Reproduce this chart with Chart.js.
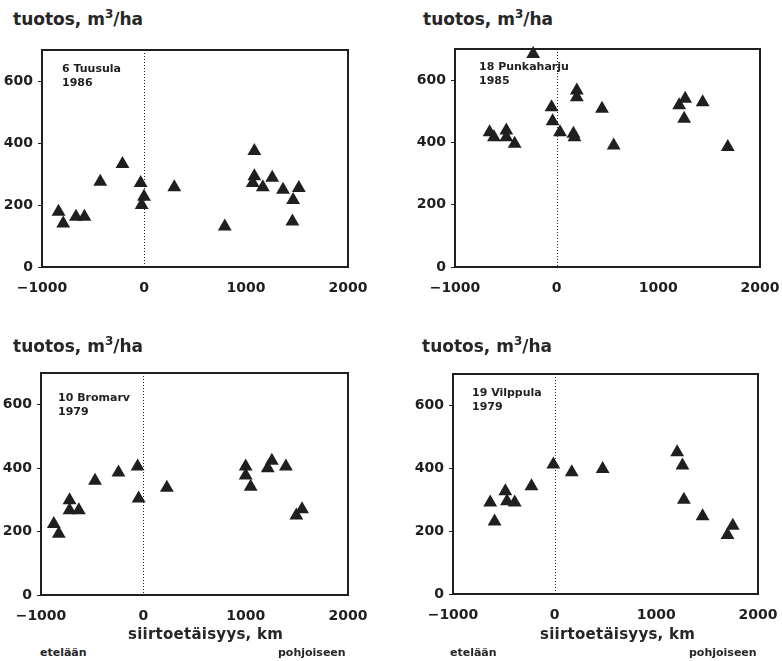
<!DOCTYPE html>
<html>
<head>
<meta charset="utf-8">
<script src="https://cdn.jsdelivr.net/npm/chart.js@4/dist/chart.umd.min.js"></script>
<style>
  body { margin: 0; background: #fff; width: 782px; height: 661px; position: relative; overflow: hidden; }
  canvas { position: absolute; }
  .lbl { position: absolute; color: #262626; font-family: "DejaVu Sans", sans-serif; white-space: nowrap; line-height: 20px; }
  .ytitle { font-size: 17px; font-weight: bold; }
  .ytitle sup { font-size: 12px; vertical-align: 7px; line-height: 0; }
  .xtitle { font-size: 15px; font-weight: bold; letter-spacing: 0.25px; }
  .dir { font-size: 11px; font-weight: bold; }
</style>
</head>
<body>
<canvas id="c1"></canvas>
<canvas id="c2"></canvas>
<canvas id="c3"></canvas>
<canvas id="c4"></canvas>

<div class="lbl ytitle" style="left:13px; top:9px;">tuotos, m<sup>3</sup>/ha</div>
<div class="lbl ytitle" style="left:423px; top:9px;">tuotos, m<sup>3</sup>/ha</div>
<div class="lbl ytitle" style="left:13px; top:336px;">tuotos, m<sup>3</sup>/ha</div>
<div class="lbl ytitle" style="left:422px; top:336px;">tuotos, m<sup>3</sup>/ha</div>

<div class="lbl xtitle" style="left:128px; top:624px;">siirtoetäisyys, km</div>
<div class="lbl xtitle" style="left:540px; top:624px;">siirtoetäisyys, km</div>
<div class="lbl dir" style="left:40px; top:643px;">etelään</div>
<div class="lbl dir" style="left:278px; top:643px;">pohjoiseen</div>
<div class="lbl dir" style="left:450px; top:643px;">etelään</div>
<div class="lbl dir" style="left:689px; top:643px;">pohjoiseen</div>

<script>
// Akselit
const xTicksMin = -1000, xTicksMax = 2000, xStep = 1000;
const yTicksMin = 0, yTicksMax = 700, yStep = 200;
const zeroLine = [0];

// 6 Tuusula 1986
const tuusulaX = [-838, -792, -667, -584, -429, -211, -33, 0, -23, 297, 792, 1082, 1082, 1066, 1165, 1257, 1363, 1462, 1518, 1455];
const tuusulaY = [178, 140, 162, 162, 275, 332, 271, 227, 200, 257, 131, 374, 293, 271, 257, 288, 249, 216, 255, 147];

// 18 Punkaharju 1985
const punkaX = [-231, -660, -617, -495, -495, -413, -50, -40, 33, 165, 175, 198, 198, 446, 561, 1205, 1264, 1254, 1436, 1683];
const punkaY = [684, 433, 417, 438, 417, 396, 513, 468, 433, 428, 417, 567, 545, 508, 390, 519, 540, 476, 529, 385];

// 10 Bromarv 1979
const bromarvX = [-875, -826, -721, -721, -630, -472, -243, -56, -46, 230, 1000, 1000, 1049, 1216, 1256, 1393, 1495, 1551];
const bromarvY = [224, 193, 299, 267, 267, 360, 386, 405, 304, 338, 405, 377, 341, 400, 423, 405, 251, 270];

// 19 Vilppula 1979
const vilppulaX = [-634, -591, -485, -469, -393, -228, -13, 168, 472, 1205, 1257, 1271, 1455, 1700, 1752];
const vilppulaY = [291, 231, 327, 295, 291, 343, 412, 387, 398, 451, 409, 300, 247, 188, 217];

// Paneelien sijainnit (piirtoalue sivulla)
const panels = [
    { id: 'c1', xs: tuusulaX, ys: tuusulaY, name: ['6 Tuusula', '1986'], box: { l: 42, t: 50, r: 348, b: 267 }, note: { dx: 20, dy: 19 } },
    { id: 'c2', xs: punkaX, ys: punkaY, name: ['18 Punkaharju', '1985'], box: { l: 455, t: 49, r: 760, b: 267 }, note: { dx: 24, dy: 18 } },
    { id: 'c3', xs: bromarvX, ys: bromarvY, name: ['10 Bromarv', '1979'], box: { l: 41, t: 373, r: 348, b: 595 }, note: { dx: 17, dy: 25 } },
    { id: 'c4', xs: vilppulaX, ys: vilppulaY, name: ['19 Vilppula', '1979'], box: { l: 453, t: 374, r: 758, b: 594 }, note: { dx: 19, dy: 19 } }
];

const ink = '#1f1f1f';
// padTop ja padRight isompia kuin akselien oma tarve, jotta piirtoalue pysyy paikallaan
const yAxisW = 45, xAxisH = 34, padTop = 18, padRight = 38;

// Kehys, nollaviiva ja paneelin nimi
const framePlugin = {
    id: 'frame',
    beforeDatasetsDraw(chart, args, opts) {
        const a = chart.chartArea;
        const ctx = chart.ctx;
        ctx.save();
        ctx.strokeStyle = ink;
        ctx.lineWidth = 1;
        ctx.setLineDash([1, 2]);
        zeroLine.forEach(v => {
            const px = Math.round(chart.scales.x.getPixelForValue(v)) + 0.5;
            ctx.beginPath();
            ctx.moveTo(px, a.top);
            ctx.lineTo(px, a.bottom);
            ctx.stroke();
        });
        ctx.setLineDash([]);
        ctx.lineWidth = 2;
        ctx.strokeRect(a.left, a.top, a.right - a.left, a.bottom - a.top);
        ctx.fillStyle = ink;
        ctx.font = 'bold 11px "DejaVu Sans"';
        ctx.textBaseline = 'middle';
        ctx.textAlign = 'left';
        opts.lines.forEach((t, i) => {
            ctx.fillText(t, a.left + opts.dx, a.top + opts.dy + i * 14);
        });
        ctx.restore();
    }
};

function makePanel(p) {
    const canvas = document.getElementById(p.id);
    const left = p.box.l - yAxisW;
    const top = p.box.t - padTop;
    const w = p.box.r - left + padRight;
    const h = p.box.b - top + xAxisH;
    canvas.style.left = left + 'px';
    canvas.style.top = top + 'px';
    canvas.style.width = w + 'px';
    canvas.style.height = h + 'px';
    canvas.width = w;
    canvas.height = h;

    const points = p.xs.map((x, i) => ({ x: x, y: p.ys[i] }));

    new Chart(canvas.getContext('2d'), {
        type: 'scatter',
        data: {
            datasets: [{
                data: points,
                pointStyle: 'triangle',
                pointRadius: 8,
                pointHoverRadius: 8,
                backgroundColor: ink,
                borderColor: ink,
                borderWidth: 0,
                clip: false
            }]
        },
        options: {
            responsive: false,
            animation: false,
            events: [],
            layout: { autoPadding: false, padding: { top: padTop, right: padRight, left: 0, bottom: 0 } },
            plugins: {
                legend: { display: false },
                tooltip: { enabled: false },
                frame: { lines: p.name, dx: p.note.dx, dy: p.note.dy }
            },
            scales: {
                x: {
                    type: 'linear',
                    min: xTicksMin,
                    max: xTicksMax,
                    grid: { display: false, drawTicks: false },
                    border: { display: false },
                    afterFit: s => { s.height = xAxisH; },
                    ticks: {
                        stepSize: xStep,
                        padding: 13,
                        color: ink,
                        font: { family: 'DejaVu Sans', size: 14, weight: 'bold' },
                        maxRotation: 0,
                        callback: v => String(v).replace('-', '\u2212')
                    }
                },
                y: {
                    type: 'linear',
                    min: yTicksMin,
                    max: yTicksMax,
                    grid: { display: true, drawOnChartArea: false, drawTicks: true, tickLength: 4, color: ink, lineWidth: 1 },
                    border: { display: false },
                    afterFit: s => { s.width = yAxisW; },
                    ticks: {
                        stepSize: yStep,
                        includeBounds: false,
                        padding: 5,
                        color: ink,
                        font: { family: 'DejaVu Sans', size: 14, weight: 'bold' },
                        callback: v => String(v)
                    }
                }
            }
        },
        plugins: [framePlugin]
    });
}

document.addEventListener('DOMContentLoaded', function() {
    panels.forEach(makePanel);
});
</script>
</body>
</html>
